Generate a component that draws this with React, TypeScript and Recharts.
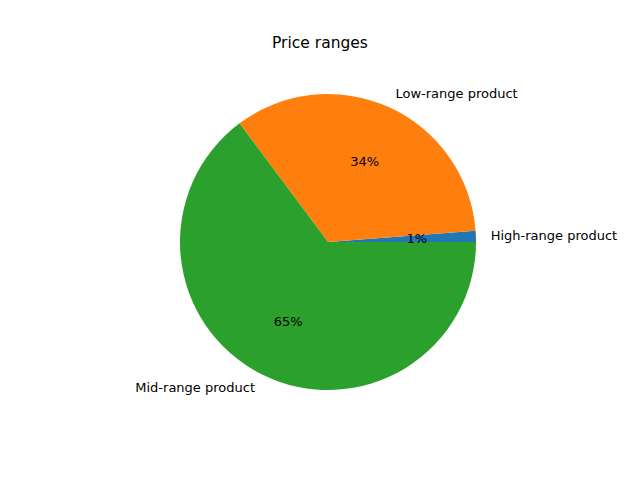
import { PieChart, Pie, Cell } from "recharts";

const names = ["High-range product", "Low-range product", "Mid-range product"];
const shares = [1.2, 34, 64.8];
const colors = ["#1f77b4", "#ff7f0e", "#2ca02c"];

const data = names.map((name, i) => ({ name, value: shares[i] }));

const RADIAN = Math.PI / 180;
const font = "DejaVu Sans, sans-serif";

function renderLabel(props: any) {
  const { cx, cy, midAngle, outerRadius, percent, name } = props;
  const cos = Math.cos(-midAngle * RADIAN);
  const sin = Math.sin(-midAngle * RADIAN);
  const lr = outerRadius * 1.1;
  const pr = outerRadius * 0.6;
  return (
    <g>
      <text
        x={cx + lr * cos}
        y={cy + lr * sin}
        textAnchor={cos >= 0 ? "start" : "end"}
        dominantBaseline="central"
        fontSize={13}
        fontFamily={font}
        fill="#000"
      >
        {name}
      </text>
      <text
        x={cx + pr * cos}
        y={cy + pr * sin}
        textAnchor="middle"
        dominantBaseline="central"
        fontSize={13}
        fontFamily={font}
        fill="#000"
      >
        {`${Math.round(percent * 100)}%`}
      </text>
    </g>
  );
}

export default function App() {
  return (
    <div style={{ position: "absolute", left: 0, top: 0, width: 640, height: 480, background: "#fff" }}>
      <div
        style={{
          position: "absolute",
          top: 34,
          width: 640,
          textAlign: "center",
          fontFamily: font,
          fontSize: 15.5,
        }}
      >
        Price ranges
      </div>
      <PieChart width={640} height={480} margin={{ top: 0, right: 0, bottom: 0, left: 0 }}>
        <Pie
          data={data}
          dataKey="value"
          nameKey="name"
          cx={328}
          cy={242}
          outerRadius={148}
          startAngle={0}
          endAngle={360}
          stroke="none"
          labelLine={false}
          label={renderLabel}
          isAnimationActive={false}
        >
          {data.map((d, i) => (
            <Cell key={d.name} fill={colors[i]} />
          ))}
        </Pie>
      </PieChart>
    </div>
  );
}
